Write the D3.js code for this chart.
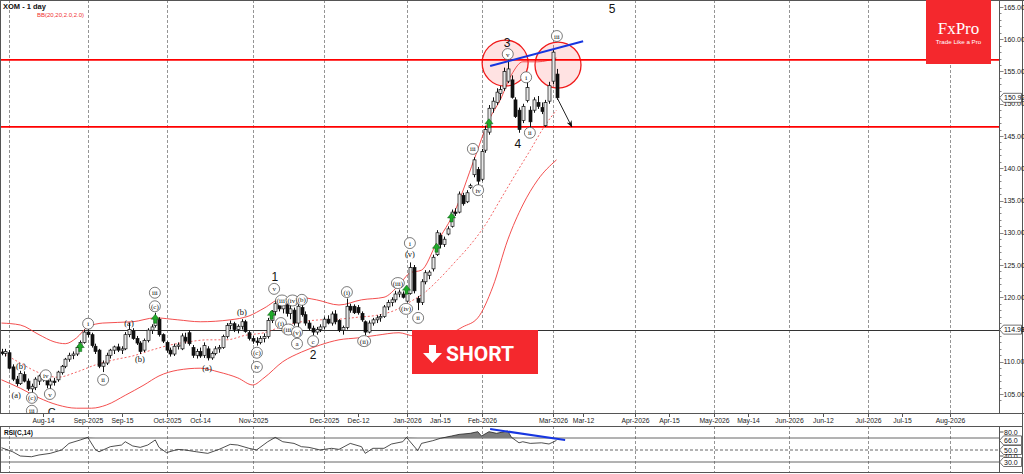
<!DOCTYPE html>
<html><head><meta charset="utf-8">
<script src="https://cdn.jsdelivr.net/npm/d3@7/dist/d3.min.js"></script>
<style>body{margin:0;background:#fff}svg{display:block;font-family:"Liberation Sans",Arial,sans-serif}</style>
</head><body><svg id="c" width="1024" height="474"></svg>
<script>
// ---------------- DATA ----------------
const startDate = "2025-07-30";
const endDate = "2026-08-31";
const holidays = ["2025-09-01","2025-11-27","2025-12-25","2026-01-01","2026-01-19","2026-02-16","2026-04-03","2026-05-25","2026-06-19","2026-07-03"];

const open  = [111.5,111.3,111.4,109.2,107.3,106.6,108.0,107.0,105.8,106.0,107.0,107.8,107.2,106.4,107.0,107.2,108.3,109.3,110.4,111.0,111.2,112.2,113.0,114.6,114.2,112.4,111.8,109.3,109.8,111.0,111.8,112.3,111.8,112.0,114.2,114.8,113.6,112.9,111.8,113.3,114.9,115.6,116.6,114.2,113.0,111.8,111.2,112.4,112.0,113.8,114.5,112.2,111.0,111.6,111.0,112.0,110.6,111.3,112.0,112.2,113.9,115.6,115.9,115.0,115.5,116.2,114.5,113.6,113.2,113.0,113.6,113.9,116.4,117.8,118.9,118.2,119.0,117.5,118.0,116.0,118.4,117.3,116.0,115.2,114.6,115.0,115.4,116.6,116.0,117.4,116.4,114.9,115.3,118.6,118.6,118.4,117.5,116.2,114.6,116.0,116.5,116.8,117.0,118.5,119.2,119.6,120.5,120.5,119.4,120.6,124.6,119.8,119.2,122.4,123.4,124.4,126.6,129.6,128.2,129.8,131.0,133.2,133.2,135.8,134.8,137.0,139.0,139.8,138.3,142.8,145.6,149.3,150.2,151.6,152.4,153.5,153.7,150.6,149.0,147.4,150.5,149.0,149.0,150.2,149.4,146.6,150.4,153.5,154.6];
const high  = [112.0,112.0,111.8,109.6,107.8,108.6,108.5,107.4,106.6,107.6,108.0,108.3,107.6,107.4,107.5,108.6,109.5,110.6,111.4,111.6,112.5,113.3,115.0,115.3,114.5,112.8,112.0,110.2,111.4,112.0,112.5,112.8,112.4,114.6,116.0,115.2,114.0,113.2,113.6,115.2,115.8,117.6,116.9,114.4,113.2,112.2,112.8,113.0,114.4,114.5,114.9,112.6,112.0,112.2,113.0,112.4,111.6,112.4,112.6,114.2,116.0,116.4,116.2,115.8,116.6,116.5,114.8,114.0,113.8,114.0,114.4,116.8,118.0,119.6,119.2,119.4,119.3,118.8,118.4,119.2,118.8,117.8,116.4,115.6,115.4,115.8,117.0,117.2,117.8,118.0,116.6,115.6,119.8,119.0,118.9,118.8,117.8,116.4,116.4,116.8,117.2,117.4,118.8,119.6,120.0,121.0,121.2,120.9,121.0,125.4,125.0,120.2,122.8,124.2,124.2,126.6,130.4,130.0,129.4,131.0,133.6,133.8,136.4,136.2,136.6,137.6,141.7,140.2,143.0,146.6,149.8,151.0,152.4,152.8,155.6,156.8,154.4,151.0,149.4,150.0,153.6,149.6,151.0,151.2,150.2,150.6,153.4,158.4,155.4];
const low   = [111.0,110.8,108.8,107.0,106.2,106.4,106.8,105.5,105.2,105.6,106.4,106.9,105.9,105.6,106.3,106.9,108.0,109.0,110.0,110.4,110.9,111.8,112.8,113.8,112.2,111.2,109.0,108.4,109.5,110.5,111.2,111.5,111.2,111.8,113.8,113.4,112.6,111.2,111.5,113.0,114.3,115.3,113.9,112.9,111.4,110.8,110.9,111.9,111.8,112.8,112.5,110.6,110.5,110.6,110.6,110.2,110.3,111.0,111.4,112.0,113.6,115.0,114.6,114.4,115.0,114.5,113.3,112.8,112.5,112.7,113.0,113.6,116.0,117.2,117.8,117.5,117.0,116.6,115.6,115.0,117.0,115.6,114.8,114.1,114.2,114.6,115.0,115.8,115.6,115.8,114.6,114.2,115.0,117.6,117.4,117.3,116.2,114.1,114.4,115.6,116.0,116.2,116.8,118.0,118.6,119.2,120.0,119.8,119.2,120.4,120.6,118.0,118.8,122.0,122.8,124.0,126.4,127.6,127.8,129.6,130.8,132.6,133.0,134.2,134.6,136.8,138.6,137.2,138.0,142.4,145.2,148.6,149.8,150.6,152.0,153.2,150.8,147.8,145.5,147.0,150.2,146.2,148.6,149.2,148.4,146.4,150.0,153.0,150.6];
const close = [111.3,111.6,109.0,107.3,106.6,108.2,107.0,105.8,106.2,107.3,107.8,107.2,106.4,107.0,106.8,108.4,109.3,110.4,111.0,111.2,112.2,113.0,114.6,114.2,112.5,111.6,109.3,109.8,111.0,111.8,112.3,111.8,112.0,114.2,115.0,113.6,112.9,111.6,113.3,114.9,115.4,116.8,114.2,113.2,111.8,111.2,112.4,112.6,114.0,113.2,112.8,111.0,111.6,110.9,112.5,110.6,111.3,112.0,112.2,113.9,115.6,115.9,115.0,115.5,116.2,114.7,113.6,113.2,113.0,113.6,113.9,116.4,117.8,119.0,118.2,119.0,117.5,118.2,116.0,118.6,117.3,116.0,115.2,114.6,115.0,115.4,116.6,116.0,117.4,116.2,114.9,115.3,118.6,118.0,117.6,117.6,116.5,114.6,116.0,116.5,116.8,117.0,118.5,119.2,119.6,120.5,120.8,120.0,120.6,124.6,121.0,119.2,122.4,123.8,123.9,126.2,130.0,128.2,129.0,130.6,133.2,133.0,136.0,134.5,136.2,137.3,141.3,138.0,142.6,146.0,149.3,150.4,151.8,152.2,155.0,155.4,151.0,148.0,146.0,149.6,152.5,147.2,150.6,149.6,148.8,150.2,152.8,158.0,150.92];

// Bollinger Bands (20,2) at these bar indices
const bbUpIdx  = [0,5,10,14,17,20,23,27,35,41,47,53,61,66,70,75,79,84,90,96,102,106,109,112,116,121,126,130,133,136,139,143,148];
const bbUpper  = [116.0,115.7,114.2,113.1,112.8,113.7,115.4,116.0,116.2,116.8,116.5,116.2,116.5,117.1,118.3,119.9,120.0,119.6,118.8,119.6,120.0,121.9,123.8,124.2,128.4,133.5,141.3,147.5,150.6,154.5,156.5,156.5,157.1];
const bbMidIdx = [0,5,10,15,20,25,30,35,40,45,50,55,60,65,70,75,80,85,90,95,100,105,109,113,117,121,125,129,133,137,141,145,148];
const bbMid    = [111.5,109.8,108.3,107.6,108.4,109.5,110.3,110.9,111.8,112.6,113.1,113.4,113.4,114.1,114.5,115.5,116.2,116.5,116.6,116.9,117.2,118.0,119.3,120.8,123.0,125.5,128.1,131.2,135.1,139.0,142.8,146.7,149.0];
const bbLoIdx  = [0,5,10,15,20,24,28,33,38,42,47,53,58,63,67,70,75,80,85,90,95,100,106,110,115,120,123,127,131,135,139,143,148];
const bbLower  = [107.2,105.9,104.4,103.3,102.8,102.8,103.3,104.8,106.4,107.8,108.7,109.0,108.4,107.5,106.4,107.5,110.0,111.5,112.6,113.4,113.7,114.1,114.5,114.0,114.0,114.5,115.4,116.8,121.6,128.9,134.3,138.2,141.3];

// RSI(14)
const rsiIdx = [0,3,5,8,10,13,16,18,21,23,25,26,29,32,33,35,37,39,41,42,44,47,49,52,55,58,61,63,66,68,71,73,75,78,80,82,85,86,88,90,93,96,97,99,102,104,107,108,111,112,115,117,120,122,125,127,128,130,132,135,136,138,139,141,144,146,148];
const rsiVal = [53.8,47,40,38.8,41.7,44.4,50,61,66.7,71,51,47,55.5,58.3,63.8,56.7,54.4,58.3,66.7,54.4,45.6,51,50,47,44.4,51,59.4,58.3,52.8,50,63.8,71,63.8,61,55.5,54.4,50,51,52.8,51,61,55.5,44.4,52.8,52.8,60,63.8,71,48.9,61,65.5,69.4,73.3,76,77.8,80.5,73.3,80.5,77.8,81.7,71,62,63.8,61,62,60,66.0];

// x axis
const tickDates  = ["2025-08-14","2025-09-02","2025-09-15","2025-10-01","2025-10-14","2025-11-03","2025-12-01","2025-12-12","2026-01-02","2026-01-15","2026-02-02","2026-03-02","2026-03-12","2026-04-01","2026-04-15","2026-05-01","2026-05-14","2026-06-01","2026-06-12","2026-07-01","2026-07-15","2026-08-03"];
const tickLabels = ["Aug-14","Sep-2025","Sep-15","Oct-2025","Oct-14","Nov-2025","Dec-2025","Dec-12","Jan-2026","Jan-15","Feb-2026","Mar-2026","Mar-12","Apr-2026","Apr-15","May-2026","May-14","Jun-2026","Jun-12","Jul-2026","Jul-15","Aug-2026"];
const gridDates  = ["2025-08-01","2025-09-02","2025-10-01","2025-11-03","2025-12-01","2026-01-02","2026-02-02","2026-03-02","2026-04-01","2026-05-01","2026-06-01","2026-07-01","2026-08-03"];
const priceTicks = [105,110,115,120,125,130,135,140,145,150,155,160,165];

// levels & annotations
const redLevels = [156.8, 146.4];
const blackLevel = 114.98;
const waveText   = ["(a)","(b)","(c)","iii","iv","v","i","ii","(a)","(b)","iii","(c)","(a)","(b)","(c)","iv","v","(iii)","(iv)","(i)","(iii)","(b)","(v)","a","c","(i)","(ii)","(iii)","(iv)","(v)","i","ii","iii","iv","v","i","ii","iii"];
const waveIdx    = [3.9,5.2,8.1,8.1,11.8,12.9,23.1,27.1,34,36.9,40.9,40.9,54.8,64.1,68.1,68.1,72.7,74.8,77.6,74.5,76.5,80.1,78.8,78.8,83.1,92.1,96.7,105.7,107.9,108.9,108.9,111.1,125.7,127.1,135.0,139.9,140.9,148.1];
const waveVal    = [104.7,109.3,104.4,102.4,107.9,105.0,115.9,107.2,116.0,110.3,120.7,118.6,109.0,117.6,111.4,109.2,121.3,119.5,119.5,116.0,115.0,119.6,114.6,112.8,113.2,120.8,113.2,122.2,118.2,126.6,128.4,116.8,143.0,136.6,157.7,154.1,145.5,160.5];
const waveCircle = [0,0,1,1,1,1,1,1,0,0,1,1,0,0,1,1,1,1,1,1,1,1,1,1,1,1,1,1,1,0,1,1,1,1,1,1,1,1];
const bigText = ["1","2","3","4","5","C"];
const bigIdx  = [72.9,83.1,134.8,137.7,162.8,13.4];
const bigVal  = [123.3,111.2,159.6,143.9,164.8,102.4];
const bigSize = [12,12,12,12,12,11];
const upArrowIdx = [21,41,72,108,116,120,130];
const upArrowVal = [112.2,116.6,117.2,121.1,127.6,132.3,146.9];
const circleIdx = [134.3,148.4];
const circleVal = [156.3,156.0];
const priceTrend = [[130.3,155.85],[155.1,159.7]];
const projArrow  = [[148.1,151.0],[152.1,146.4]];
const rsiTrend   = [[130.3,85],[150.3,66.7]];
const rsiLevels  = [70,50,30];
const rsiTags    = [80,66,50,40,30];
const rsiBoxed   = [0,1,1,0,1];

// ---------------- CALENDAR ----------------
const cal = [];
for (let d = new Date(startDate+"T00:00:00Z"); d <= new Date(endDate+"T00:00:00Z"); d.setUTCDate(d.getUTCDate()+1)) {
  const wd = d.getUTCDay(), s = d.toISOString().slice(0,10);
  if (wd===0 || wd===6 || holidays.includes(s)) continue;
  cal.push(s);
}
const idxOf = s => cal.indexOf(s);

// ---------------- SCALES ----------------
const PR = 999, PB = 413, RT = 426, RB = 472;
const x = d3.scaleLinear().domain([-0.4, 266.0]).range([0, PR]);
const y = d3.scaleLinear().domain([105, 165]).range([394, 7]);
const yr = d3.scaleLinear().domain([30, 80]).range([462, 432]);

const svg = d3.select("#c");
svg.append("rect").attr("width",1024).attr("height",474).attr("fill","#fff");
const defs = svg.append("defs");
defs.append("clipPath").attr("id","mainClip").append("rect").attr("x",0).attr("y",0).attr("width",PR).attr("height",PB);
defs.append("clipPath").attr("id","rsiClip").append("rect").attr("x",0).attr("y",RT).attr("width",PR).attr("height",RB-RT);

// gridlines
const grid = svg.append("g").attr("stroke","#7a7a7a").attr("stroke-width",0.8).attr("stroke-dasharray","3,2");
gridDates.forEach(d => {
  const gx = Math.round(x(idxOf(d))) + 0.5;
  grid.append("line").attr("x1",gx).attr("x2",gx).attr("y1",0).attr("y2",PB);
  grid.append("line").attr("x1",gx).attr("x2",gx).attr("y1",RT).attr("y2",RB);
});

const main = svg.append("g").attr("clip-path","url(#mainClip)");

// black level line
main.append("line").attr("x1",0).attr("x2",PR).attr("y1",Math.round(y(blackLevel))+0.5).attr("y2",Math.round(y(blackLevel))+0.5)
  .attr("stroke","#333").attr("stroke-width",1);

// red circles (behind)
circleIdx.forEach((ci,k) => {
  main.append("circle").attr("cx",x(ci)).attr("cy",y(circleVal[k])).attr("r",23)
    .attr("fill","rgba(255,60,60,0.15)").attr("stroke","#f01a1a").attr("stroke-width",1.3);
});

// Bollinger bands
const idxLine = d3.line().x(d=>x(d[0])).y(d=>y(d[1])).curve(d3.curveMonotoneX);
main.append("path").attr("d",idxLine(d3.zip(bbUpIdx,bbUpper))).attr("fill","none").attr("stroke","#f23b3b").attr("stroke-width",0.9);
main.append("path").attr("d",idxLine(d3.zip(bbLoIdx,bbLower))).attr("fill","none").attr("stroke","#f23b3b").attr("stroke-width",0.9);
main.append("path").attr("d",idxLine(d3.zip(bbMidIdx,bbMid))).attr("fill","none").attr("stroke","#f25555").attr("stroke-width",0.9).attr("stroke-dasharray","2,2");

// red horizontal levels
redLevels.forEach(v => {
  main.append("line").attr("x1",0).attr("x2",PR).attr("y1",y(v)).attr("y2",y(v)).attr("stroke","#f00").attr("stroke-width",1.8);
});

// candles
const cg = main.append("g");
close.forEach((c,i) => {
  const cx = Math.round(x(i)) + 0.5;
  const o = open[i], up = c >= o;
  cg.append("line").attr("x1",cx).attr("x2",cx).attr("y1",y(high[i])).attr("y2",y(low[i])).attr("stroke","#111").attr("stroke-width",1);
  const top = y(Math.max(o,c)), bot = y(Math.min(o,c));
  cg.append("rect").attr("x",cx-1.5).attr("y",top).attr("width",3).attr("height",Math.max(1,bot-top))
    .attr("fill", up ? "#e8e8e8" : "#111").attr("stroke","#111").attr("stroke-width",0.7);
});

// green up arrows
upArrowIdx.forEach((ai,k) => {
  const ax = x(ai), ay = y(upArrowVal[k]);
  main.append("path").attr("d",`M${ax},${ay-5} L${ax+4},${ay} L${ax+1.5},${ay} L${ax+1.5},${ay+4} L${ax-1.5},${ay+4} L${ax-1.5},${ay} L${ax-4},${ay} Z`)
    .attr("fill","#1faa2a").attr("stroke","#0a5a10").attr("stroke-width",0.5);
});

// trend lines
main.append("line").attr("x1",x(priceTrend[0][0])).attr("y1",y(priceTrend[0][1])).attr("x2",x(priceTrend[1][0])).attr("y2",y(priceTrend[1][1]))
  .attr("stroke","#1736e0").attr("stroke-width",2);
defs.append("marker").attr("id","ah").attr("viewBox","0 0 10 10").attr("refX",9).attr("refY",5).attr("markerWidth",7).attr("markerHeight",7).attr("orient","auto")
  .append("path").attr("d","M0,1 L10,5 L0,9 L3,5 Z").attr("fill","#111");
main.append("line").attr("x1",x(projArrow[0][0])).attr("y1",y(projArrow[0][1])).attr("x2",x(projArrow[1][0])).attr("y2",y(projArrow[1][1]))
  .attr("stroke","#222").attr("stroke-width",1).attr("marker-end","url(#ah)");

// wave labels
const wl = main.append("g");
waveText.forEach((t,k) => {
  const lx = x(waveIdx[k]), ly = y(waveVal[k]);
  if (waveCircle[k]) {
    const r = t.length > 3 ? 6.5 : 5.5;
    wl.append("ellipse").attr("cx",lx).attr("cy",ly).attr("rx",r).attr("ry",5.5).attr("fill","#fff").attr("stroke","#444").attr("stroke-width",0.7);
  }
  wl.append("text").attr("x",lx).attr("y",ly+2.5).attr("text-anchor","middle").attr("font-family","'Liberation Serif','Times New Roman',serif")
    .attr("font-size", waveCircle[k] ? 7 : 8.5).attr("fill","#111").text(t);
});
bigText.forEach((t,k) => {
  wl.append("text").attr("x",x(bigIdx[k])).attr("y",y(bigVal[k])+5).attr("text-anchor","middle").attr("font-size",bigSize[k]).attr("fill","#111").text(t);
});

// ---------------- AXES / FRAME ----------------
const frame = svg.append("g").attr("fill","none").attr("stroke","#555").attr("stroke-width",1);
frame.append("line").attr("x1",0.5).attr("x2",0.5).attr("y1",0).attr("y2",PB);
frame.append("line").attr("x1",0).attr("x2",1024).attr("y1",0.5).attr("y2",0.5);
frame.append("line").attr("x1",PR+0.5).attr("x2",PR+0.5).attr("y1",0).attr("y2",PB);
frame.append("line").attr("x1",0).attr("x2",1024).attr("y1",PB+0.5).attr("y2",PB+0.5);
frame.append("rect").attr("x",0.5).attr("y",RT+0.5).attr("width",1022).attr("height",RB-RT);
frame.append("line").attr("x1",PR+0.5).attr("x2",PR+0.5).attr("y1",RT).attr("y2",RB);
frame.append("line").attr("x1",1022.5).attr("x2",1022.5).attr("y1",0).attr("y2",474);

// price axis
const pa = svg.append("g").attr("transform",`translate(${PR+0.5},0)`);
d3.range(104,166,1).forEach(v => {
  const ty = Math.round(y(v))+0.5;
  pa.append("line").attr("x1",0).attr("x2", v%5===0 ? 4 : 2).attr("y1",ty).attr("y2",ty).attr("stroke","#555").attr("stroke-width",0.7);
});
pa.selectAll("text.pt").data(priceTicks).enter().append("text").attr("x",4).attr("y",d=>y(d)+2.5).attr("font-size",7).attr("fill","#222").text(d=>d.toFixed(2));

function tag(g, ty, txt) {
  g.append("path").attr("d",`M0,${ty} L4,${ty-4.5} L22,${ty-4.5} L22,${ty+4.5} L4,${ty+4.5} Z`).attr("fill","#fff").attr("stroke","#333").attr("stroke-width",0.7);
  g.append("text").attr("x",4.5).attr("y",ty+2.5).attr("font-size",7).attr("fill","#111").text(txt);
}
tag(pa, y(close[close.length-1]), close[close.length-1].toFixed(2));
tag(pa, y(blackLevel), blackLevel.toFixed(2));

// x axis
const xa = svg.append("g");
tickDates.forEach((d,k) => {
  const tx = Math.round(x(idxOf(d)))+0.5;
  xa.append("line").attr("x1",tx).attr("x2",tx).attr("y1",PB).attr("y2",PB+4).attr("stroke","#555");
  xa.append("text").attr("x",tx).attr("y",PB+9.5).attr("text-anchor","middle").attr("font-size",6.8).attr("fill","#222").text(tickLabels[k]);
});

// ---------------- RSI PANEL ----------------
const rp = svg.append("g").attr("clip-path","url(#rsiClip)");
rsiLevels.forEach(v => {
  rp.append("line").attr("x1",0).attr("x2",PR).attr("y1",yr(v)).attr("y2",yr(v)).attr("stroke","#555").attr("stroke-width",0.9)
    .attr("stroke-dasharray", v===50 ? "3,2" : null);
});
const rsiPts = d3.zip(rsiIdx, rsiVal);
const rsiArea = d3.area().x(d=>x(d[0])).y0(yr(70)).y1(d=>yr(Math.max(70,d[1])));
rp.append("path").attr("d",rsiArea(rsiPts)).attr("fill","#7d7d7d");
rp.append("path").attr("d",d3.line().x(d=>x(d[0])).y(d=>yr(d[1]))(rsiPts)).attr("fill","none").attr("stroke","#222").attr("stroke-width",0.8);
rp.append("line").attr("x1",x(rsiTrend[0][0])).attr("y1",yr(rsiTrend[0][1])).attr("x2",x(rsiTrend[1][0])).attr("y2",yr(rsiTrend[1][1]))
  .attr("stroke","#1736e0").attr("stroke-width",2);
svg.append("text").attr("x",4).attr("y",RT+9).attr("font-size",6.5).attr("font-weight","bold").attr("fill","#111").text("RSI(C,14)");
const ra = svg.append("g").attr("transform",`translate(${PR+0.5},0)`);
rsiTags.forEach((v,k) => {
  if (rsiBoxed[k]) tag(ra, yr(v), v.toFixed(1));
  else {
    ra.append("line").attr("x1",0).attr("x2",4).attr("y1",yr(v)).attr("y2",yr(v)).attr("stroke","#555");
    ra.append("text").attr("x",4.5).attr("y",yr(v)+2.5).attr("font-size",7).attr("fill","#111").text(v.toFixed(1));
  }
});

// ---------------- TITLE, LOGO, BADGE ----------------
svg.append("text").attr("x",3).attr("y",9).attr("font-size",7.5).attr("font-weight","bold").attr("fill","#111").text("XOM - 1 day");
svg.append("text").attr("x",37).attr("y",17).attr("font-size",6).attr("fill","#f03030").text("BB(20,20,2.0,2.0)");

const logo = svg.append("g");
logo.append("rect").attr("x",926).attr("y",0).attr("width",65).attr("height",64).attr("fill","#f4282d");
logo.append("text").attr("x",958.5).attr("y",34).attr("text-anchor","middle").attr("font-family","'Liberation Serif','DejaVu Serif',serif")
  .attr("font-size",17).attr("fill","#fff").text("FxPro");
logo.append("text").attr("x",958.5).attr("y",44).attr("text-anchor","middle").attr("font-size",6.2).attr("fill","#fff").text("Trade Like a Pro");

const badge = svg.append("g");
badge.append("rect").attr("x",412).attr("y",330).attr("width",126).attr("height",44).attr("fill","#f4282d");
badge.append("path").attr("d","M429,345 L436,345 L436,353 L442,353 L432.5,363 L423,353 L429,353 Z").attr("fill","#fff");
badge.append("text").attr("x",446).attr("y",360.5).attr("font-family","Roboto,'Liberation Sans',Arial,sans-serif").attr("font-weight","bold")
  .attr("font-size",21).attr("fill","#fff").text("SHORT");
</script></body></html>
